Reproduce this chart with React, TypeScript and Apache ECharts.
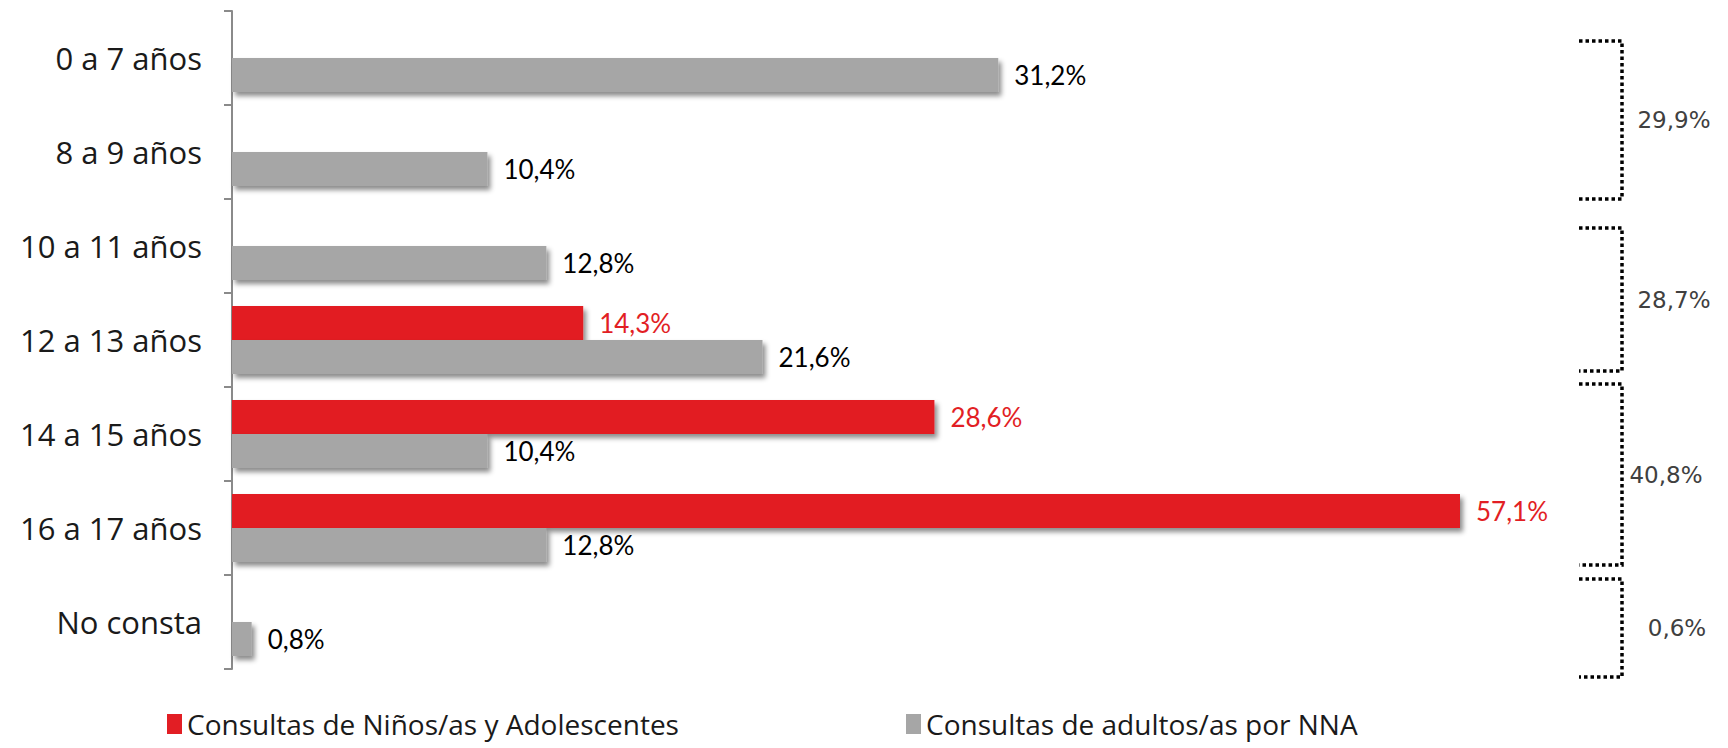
import React, { useEffect, useRef } from "react";
import * as echarts from "echarts";

const categories = [
  "0 a 7 años",
  "8 a 9 años",
  "10 a 11 años",
  "12 a 13 años",
  "14 a 15 años",
  "16 a 17 años",
  "No consta",
];
const seriesNames = [
  "Consultas de Niños/as y Adolescentes",
  "Consultas de adultos/as por NNA",
];
const ninosValues: (number | null)[] = [null, null, null, 14.3, 28.6, 57.1, null];
const adultosValues: (number | null)[] = [31.2, 10.4, 12.8, 21.6, 10.4, 12.8, 0.8];
const groupLabels = ["29,9%", "28,7%", "40,8%", "0,6%"];

// bracket annotation layout (pixels): top, bottom, label centre x
const bracketLayout = [
  { top: 41, bottom: 199, lx: 1674 },
  { top: 228, bottom: 371, lx: 1674 },
  { top: 384, bottom: 565, lx: 1666 },
  { top: 579, bottom: 677, lx: 1677 },
];

const RED = "#E21E24";
const GREY = "#A6A6A6";

const fmt = (v: number) => v.toFixed(1).replace(".", ",") + "%";

export default function App() {
  const ref = useRef<HTMLDivElement>(null);
  useEffect(() => {
    if (!ref.current) return;
    const chart = echarts.init(ref.current, undefined, { renderer: "svg" });
    const bx0 = 1579;
    const bx1 = 1622;
    const dotted = { stroke: "#000", lineWidth: 3.5, lineDash: [3.5, 3] };
    const graphics: any[] = [];
    bracketLayout.forEach((b, i) => {
      graphics.push({
        type: "polyline",
        shape: {
          points: [
            [bx0, b.top],
            [bx1, b.top],
            [bx1, b.bottom],
            [bx0, b.bottom],
          ],
        },
        style: { ...dotted, fill: null },
      });
      graphics.push({
        type: "text",
        x: b.lx,
        y: (b.top + b.bottom) / 2,
        style: {
          text: groupLabels[i],
          fill: "#404040",
          font: "23px 'DejaVu Sans'",
          align: "center",
          verticalAlign: "middle",
        },
      });
    });

    const shadow = {
      shadowColor: "rgba(0,0,0,0.45)",
      shadowBlur: 5,
      shadowOffsetX: 3,
      shadowOffsetY: 4,
    };

    const legendText = { fontFamily: "Open Sans", fontSize: 28, color: "#1a1a1a", lineHeight: 30 };

    chart.setOption({
      animation: false,
      grid: { left: 232, right: 268, top: 11, bottom: 79 },
      legend: [
        {
          data: [seriesNames[0]],
          left: 167,
          top: 709,
          padding: 0,
          icon: "rect",
          itemWidth: 15,
          itemHeight: 20,
          textStyle: legendText,
        },
        {
          data: [seriesNames[1]],
          left: 906,
          top: 709,
          padding: 0,
          icon: "rect",
          itemWidth: 15,
          itemHeight: 20,
          textStyle: legendText,
        },
      ],
      xAxis: {
        type: "value",
        min: 0,
        max: 50,
        show: false,
      },
      yAxis: {
        type: "category",
        data: categories,
        inverse: true,
        axisLine: { show: true, lineStyle: { color: "#8a8a8a", width: 2 } },
        axisTick: { show: true, length: 8, lineStyle: { color: "#8a8a8a", width: 2 } },
        axisLabel: {
          fontFamily: "Open Sans",
          fontSize: 31,
          color: "#1a1a1a",
          margin: 30,
        },
      },
      series: [
        {
          name: seriesNames[0],
          type: "bar",
          data: ninosValues,
          barWidth: 34,
          barGap: "0%",
          itemStyle: { color: RED, ...shadow },
          label: {
            show: true,
            position: "right",
            distance: 16,
            color: RED,
            fontFamily: "Lato",
            fontSize: 26,
            formatter: (p: any) => fmt(p.value),
          },
        },
        {
          name: seriesNames[1],
          type: "bar",
          data: adultosValues,
          barWidth: 34,
          barGap: "0%",
          itemStyle: { color: GREY, ...shadow },
          label: {
            show: true,
            position: "right",
            distance: 16,
            color: "#000",
            fontFamily: "Lato",
            fontSize: 26,
            formatter: (p: any) => fmt(p.value),
          },
        },
      ],
      graphic: graphics,
    });
    return () => chart.dispose();
  }, []);
  return (
    <div
      ref={ref}
      style={{ position: "absolute", left: 0, top: 0, width: 1728, height: 748 }}
    />
  );
}
